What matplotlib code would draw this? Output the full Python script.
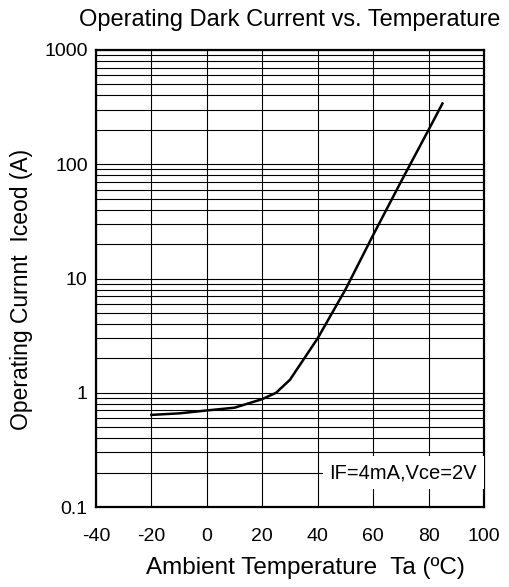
import numpy as np
import matplotlib
matplotlib.use("Agg")
import matplotlib.pyplot as plt
from matplotlib.ticker import LogLocator, NullFormatter

plt.rcParams['font.family'] = ['Liberation Sans', 'DejaVu Sans']
plt.rcParams['axes.unicode_minus'] = False

# curve
temp = [-20, -10, 0, 10, 20, 25, 30, 40, 50, 60, 70, 80, 85]
current = [0.64, 0.66, 0.70, 0.74, 0.88, 1.0, 1.3, 3.0, 8.0, 24, 70, 200, 340]

x_ticks = [-40, -20, 0, 20, 40, 60, 80, 100]
y_ticks = [0.1, 1, 10, 100, 1000]
y_labels = ['0.1', '1', '10', '100', '1000']

fig = plt.figure(figsize=(5.1, 5.87), dpi=100)
ax = fig.add_axes([96 / 510, 1 - 507 / 587, 388 / 510, 457 / 587])

ax.set_yscale('log')
ax.set_xlim(-40, 100)
ax.set_ylim(0.1, 1000)

ax.set_xticks(x_ticks)
ax.set_yticks(y_ticks)
ax.set_yticklabels(y_labels)
ax.yaxis.set_minor_locator(LogLocator(base=10, subs=np.arange(2, 10)))
ax.yaxis.set_minor_formatter(NullFormatter())

ax.grid(True, which='major', color='black', lw=0.8)
ax.grid(True, which='minor', axis='y', color='black', lw=0.8)
ax.tick_params(which='both', length=0)
ax.tick_params(axis='x', pad=15, labelsize=14)
ax.tick_params(axis='y', pad=6, labelsize=14)
for s in ax.spines.values():
    s.set_linewidth(1.6)

ax.plot(temp, current, color='black', lw=1.8, zorder=3)

ax.text(97.5, 0.2, 'IF=4mA,Vce=2V', ha='right', va='center', fontsize=14.5,
        bbox=dict(facecolor='white', edgecolor='none', pad=5), zorder=4)

ax.set_title('Operating Dark Current vs. Temperature', fontsize=17, pad=17, x=0.5)
ax.set_xlabel('Ambient Temperature  Ta (ºC)', fontsize=17.5)
ax.set_ylabel('Operating Curnnt  Iceod (A)', fontsize=16.5)
ax.xaxis.set_label_coords(0.541, -0.11)
ax.yaxis.set_label_coords(-0.162, 0.475)

fig.savefig('out.png', dpi=100)
